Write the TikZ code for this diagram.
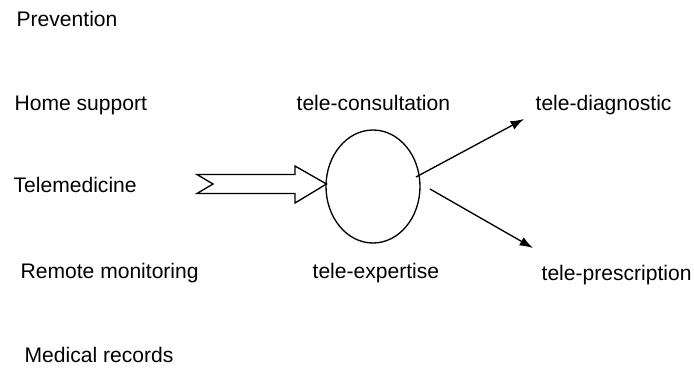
\documentclass[tikz,border=0pt]{standalone}
\usepackage{fontspec}
\setmainfont{Liberation Sans}
\usetikzlibrary{arrows.meta}

\tikzset{every picture/.style={line width=1pt}}
\tikzset{lbl/.style={anchor=base west, inner sep=0pt, font=\fontsize{15.8}{19}\selectfont}}

\begin{document}
\begin{tikzpicture}[x=0.75pt,y=0.75pt,yscale=-1,xscale=1]
\useasboundingbox (0,0) rectangle (694,368);

% Text Node
\node [lbl] (prev) at (16,26) {Prevention};
% Text Node
\node [lbl] (home) at (14,110) {Home support};
% Text Node
\node [lbl] (tele) at (13,192) {Telemedicine};
% Text Node
\node [lbl] (remote) at (20,278) {Remote monitoring};
% Text Node
\node [lbl] (records) at (24,362) {Medical records};
% Text Node
\node [lbl] (consult) at (296,110) {tele-consultation};
% Text Node
\node [lbl] (expert) at (312,278) {tele-expertise};
% Text Node
\node [lbl] (diag) at (535,110) {tele-diagnostic};
% Text Node
\node [lbl] (presc) at (541,280) {tele-prescription};

%Ellipse
\draw (373,186.5) ellipse (47 and 56.5);
\coordinate (hub) at (326.5,184);

%Block Arrow
\draw (197,174.5) -- (295,174.5) -- (295,166) -- (hub) -- (295,203) -- (295,193.5) -- (197,193.5) -- (213,184) -- cycle;

%Straight Lines
\draw [-{Latex[length=10pt,width=7pt]}] (416,177) -- (524,119);
\draw [-{Latex[length=10pt,width=7pt]}] (430,189) -- (533,248);

\end{tikzpicture}
\end{document}
